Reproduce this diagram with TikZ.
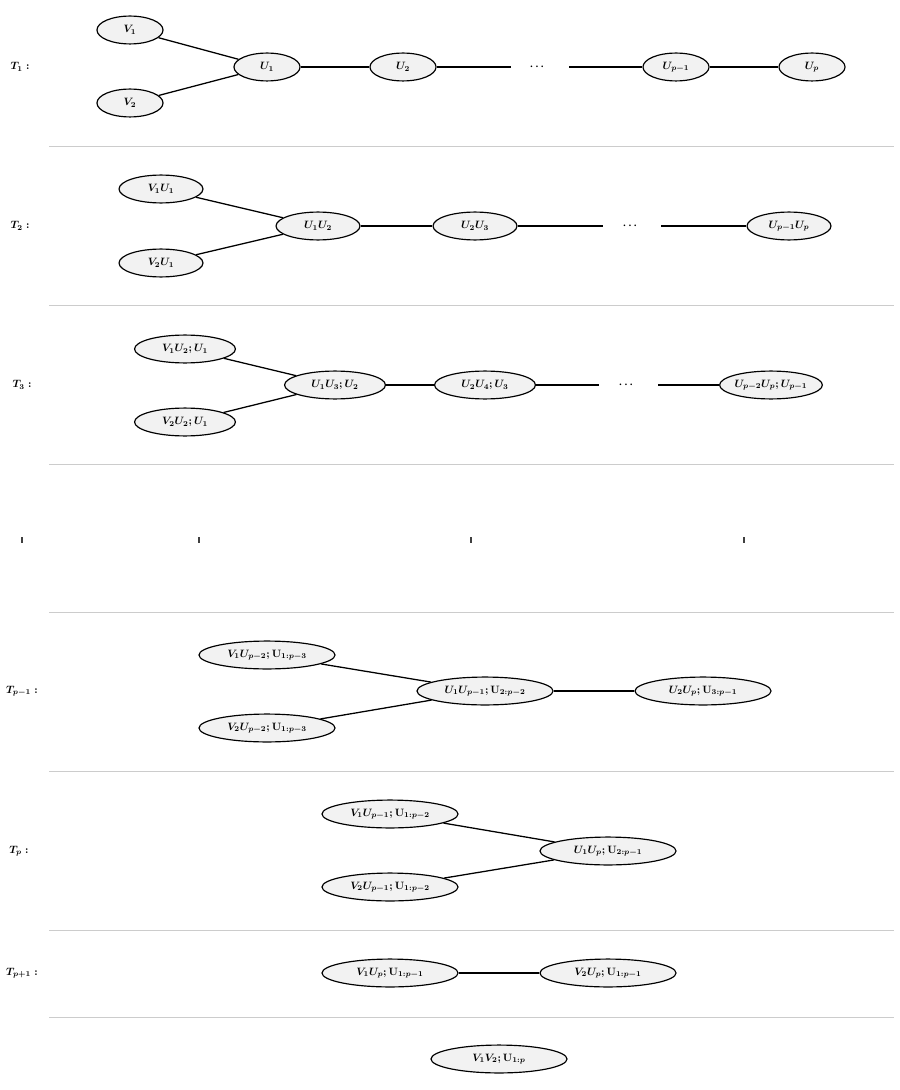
\documentclass[tikz,border=0pt]{standalone}
\usepackage{amsmath, amssymb}
\usetikzlibrary{shapes.geometric, positioning}

\begin{document}
\begin{tikzpicture}[
    x=0.033cm, y=-0.033cm,
    every node/.style={font=\boldmath},
    tnode/.style={ellipse, draw, line width=1.1pt, fill=gray!10, inner sep=0pt, minimum height=0.92cm},
    wa/.style={tnode, minimum width=2.18cm},
    wb/.style={tnode, minimum width=2.77cm},
    wc/.style={tnode, minimum width=3.33cm},
    wd/.style={tnode, minimum width=4.49cm},
    tree/.style={line width=1.2pt},
    sep/.style={gray!40, line width=0.8pt}
]
    \useasboundingbox (0,0) rectangle (899,1090);

    % T_1
    \node (t1) at (20,67) {$T_1:$};
    \node[wa] (v1) at (130,30) {$V_1$};
    \node[wa] (v2) at (130,103) {$V_2$};
    \node[wa] (u1) at (267,67) {$U_1$};
    \node[wa] (u2) at (403,67) {$U_2$};
    \node (d1) at (538,67) {$\cdots$};
    \node[wa] (up1) at (676,67) {$U_{p-1}$};
    \node[wa] (up) at (812,67) {$U_p$};
    \coordinate (d1l) at (511,67);
    \coordinate (d1r) at (569,67);
    \path[tree]
        (v1) edge (u1)
        (v2) edge (u1)
        (u1) edge (u2)
        (u2) edge (d1l)
        (d1r) edge (up1)
        (up1) edge (up);
    \draw[sep] (49,146) -- (894,146);

    % T_2
    \node (t2) at (20,226) {$T_2:$};
    \node[wb] (v1u1) at (161,189) {$V_1U_1$};
    \node[wb] (v2u1) at (161,263) {$V_2U_1$};
    \node[wb] (u1u2) at (318,226) {$U_1U_2$};
    \node[wb] (u2u3) at (475,226) {$U_2U_3$};
    \node (d2) at (631,226) {$\cdots$};
    \node[wb] (upu) at (789,226) {$U_{p-1}U_p$};
    \coordinate (d2l) at (603,226);
    \coordinate (d2r) at (661,226);
    \path[tree]
        (v1u1) edge (u1u2)
        (v2u1) edge (u1u2)
        (u1u2) edge (u2u3)
        (u2u3) edge (d2l)
        (d2r) edge (upu);
    \draw[sep] (49,305) -- (894,305);

    % T_3
    \node (t3) at (22,385) {$T_3:$};
    \node[wc] (v1u2) at (185,349) {$V_1U_2;U_1$};
    \node[wc] (v2u2) at (185,422) {$V_2U_2;U_1$};
    \node[wc] (u1u3) at (335,385) {$U_1U_3;U_2$};
    \node[wc] (u2u4) at (485,385) {$U_2U_4;U_3$};
    \node (d3) at (627,385) {$\cdots$};
    \node[wc] (upup) at (771,385) {$U_{p-2}U_p;U_{p-1}$};
    \coordinate (d3l) at (599,385);
    \coordinate (d3r) at (658,385);
    \path[tree]
        (v1u2) edge (u1u3)
        (v2u2) edge (u1u3)
        (u1u3) edge (u2u4)
        (u2u4) edge (d3l)
        (d3r) edge (upup);
    \draw[sep] (49,464) -- (894,464);

    % skipped levels
    \foreach \x in {22,199,471,744}
        \draw[black!75, line width=1.2pt] (\x,537) -- (\x,543);
    \draw[sep] (49,612) -- (894,612);

    % T_{p-1}
    \node (tpm) at (22,691) {$T_{p-1}:$};
    \node[wd] (v1a) at (267,655) {$V_1U_{p-2};\mathbf{U}_{1:p-3}$};
    \node[wd] (v2a) at (267,728) {$V_2U_{p-2};\mathbf{U}_{1:p-3}$};
    \node[wd] (ua) at (485,691) {$U_1U_{p-1};\mathbf{U}_{2:p-2}$};
    \node[wd] (ub) at (703,691) {$U_2U_p;\mathbf{U}_{3:p-1}$};
    \path[tree]
        (v1a) edge (ua)
        (v2a) edge (ua)
        (ua) edge (ub);
    \draw[sep] (49,771) -- (894,771);

    % T_p
    \node (tp) at (19,851) {$T_p:$};
    \node[wd] (v1b) at (390,814) {$V_1U_{p-1};\mathbf{U}_{1:p-2}$};
    \node[wd] (v2b) at (390,887) {$V_2U_{p-1};\mathbf{U}_{1:p-2}$};
    \node[wd] (uc) at (608,851) {$U_1U_p;\mathbf{U}_{2:p-1}$};
    \path[tree]
        (v1b) edge (uc)
        (v2b) edge (uc);
    \draw[sep] (49,930) -- (894,930);

    % T_{p+1}
    \node (tpp) at (22,973) {$T_{p+1}:$};
    \node[wd] (v1c) at (390,973) {$V_1U_p;\mathbf{U}_{1:p-1}$};
    \node[wd] (v2c) at (608,973) {$V_2U_p;\mathbf{U}_{1:p-1}$};
    \path[tree] (v1c) edge (v2c);
    \draw[sep] (49,1017) -- (894,1017);

    % last
    \node[wd] (v1v2) at (499,1059) {$V_1V_2;\mathbf{U}_{1:p}$};
\end{tikzpicture}
\end{document}
